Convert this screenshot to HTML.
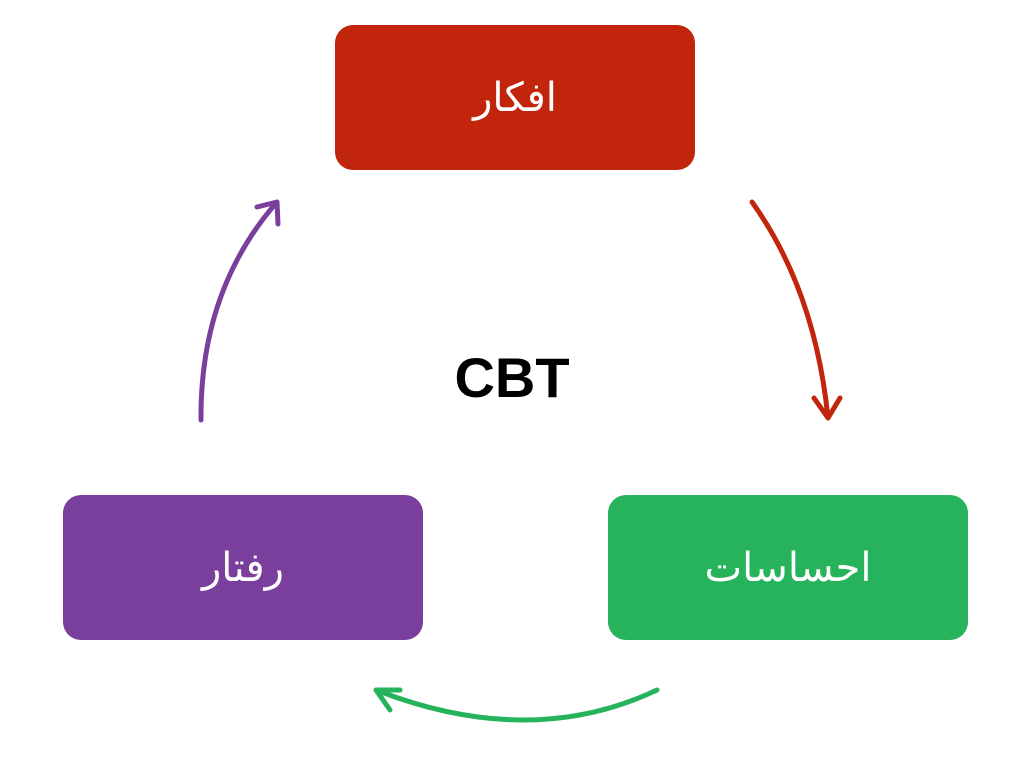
<!DOCTYPE html>
<html><head><meta charset="utf-8"><style>
body{margin:0;width:1024px;height:768px;background:#fff;position:relative;overflow:hidden;font-family:"Liberation Sans","DejaVu Sans",sans-serif}
.b{position:absolute;width:360px;height:145px;border-radius:18px;color:#fff;font-size:40px;display:flex;align-items:center;justify-content:center;font-family:"DejaVu Sans",sans-serif}
</style></head><body>
<div class="b" style="left:335px;top:25px;background:#C1250B">افکار</div>
<div class="b" style="left:608px;top:495px;background:#27B35B">احساسات</div>
<div class="b" style="left:63px;top:495px;background:#7A3F9C">رفتار</div>
<div style="position:absolute;left:0;width:1024px;top:345px;text-align:center;font-size:56px;font-weight:bold;color:#000">CBT</div>
<svg width="1024" height="768" style="position:absolute;left:0;top:0" fill="none" stroke-width="5" stroke-linecap="round" stroke-linejoin="round">
<path d="M752 202 Q815 290 828 418 M814 398 L828 418 L840 398" stroke="#C1250B"/>
<path d="M201 420 Q200 290 277 202 M257 207 L277 202 L278 224" stroke="#7A3F9C"/>
<path d="M657 690 Q530 750 376 690 M400 690 L376 690 L390 710" stroke="#27B35B"/>
</svg>
</body></html>
